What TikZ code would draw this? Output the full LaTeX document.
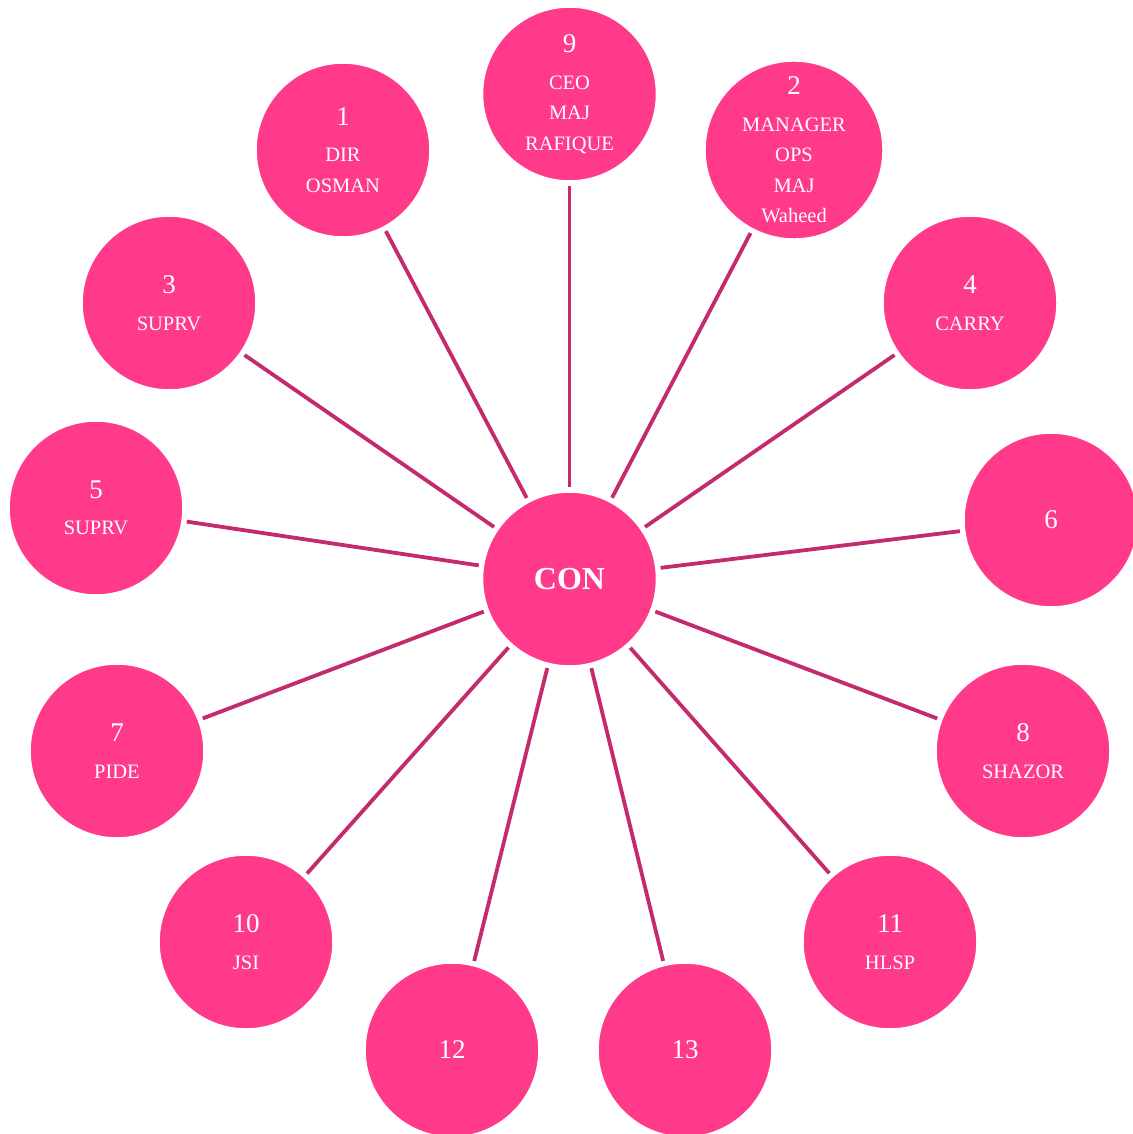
\documentclass[tikz,border=0pt]{standalone}
\usepackage{fontspec}
\setmainfont{Liberation Serif}
\definecolor{bubble}{HTML}{FF3A8B}
\definecolor{spoke}{HTML}{C42A6E}
\begin{document}
\begin{tikzpicture}[x=1pt,y=-1pt,
  bub/.style={circle,fill=bubble,draw=white,line width=2.5pt,minimum size=175pt,inner sep=0pt,text=white,align=center,font=\fontsize{20.5}{30.5}\selectfont},
  hub/.style={bub,font=\fontsize{32}{36}\selectfont\bfseries},
  link/.style={draw=spoke,line width=3.8pt,shorten <=3pt,shorten >=3pt}]
\useasboundingbox (0,0) rectangle (1132,1134);
\newcommand{\numtxt}[1]{{\fontsize{27}{30}\selectfont #1}}
\node[hub] (con) at (569.5,579) {CON};
\node[bub] (n9) at (569.5,94) {\numtxt{9}\\[6pt]CEO\\MAJ\\RAFIQUE};
\node[bub] (n1) at (343,150) {\numtxt{1}\\[6pt]DIR\\OSMAN};
\node[bub] (n2) at (794,150) {\numtxt{2}\\[6pt]MANAGER\\OPS\\MAJ\\Waheed};
\node[bub] (n3) at (169,303) {\numtxt{3}\\[6pt]SUPRV};
\node[bub] (n4) at (970,303) {\numtxt{4}\\[6pt]CARRY};
\node[bub] (n5) at (96,508) {\numtxt{5}\\[6pt]SUPRV};
\node[bub] (n6) at (1051,520) {\numtxt{6}};
\node[bub] (n7) at (117,751) {\numtxt{7}\\[6pt]PIDE};
\node[bub] (n8) at (1023,751) {\numtxt{8}\\[6pt]SHAZOR};
\node[bub] (n10) at (246,942) {\numtxt{10}\\[6pt]JSI};
\node[bub] (n11) at (890,942) {\numtxt{11}\\[6pt]HLSP};
\node[bub] (n12) at (452,1050) {\numtxt{12}};
\node[bub] (n13) at (685,1050) {\numtxt{13}};
\foreach \n in {n9,n1,n2,n3,n4,n5,n6,n7,n8,n10,n11,n12,n13}
  \path[link] (con) -- (\n);
\end{tikzpicture}
\end{document}
